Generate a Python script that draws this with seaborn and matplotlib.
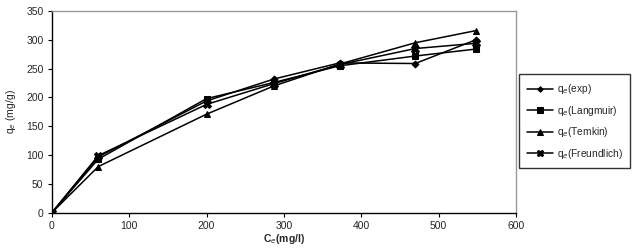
import matplotlib
matplotlib.use("Agg")
import matplotlib.pyplot as plt
import seaborn as sns
import pandas as pd

ce = [0, 60, 200, 287, 372, 470, 548]
q_exp = [0, 97, 194, 232, 260, 259, 300]
q_langmuir = [0, 93, 198, 226, 255, 272, 284]
q_temkin = [0, 80, 171, 220, 258, 295, 316]
q_freundlich = [0, 99, 188, 224, 257, 285, 294]

series = [
    ("q$_e$(exp)", q_exp, "D", 3.5),
    ("q$_e$(Langmuir)", q_langmuir, "s", 5),
    ("q$_e$(Temkin)", q_temkin, "^", 5),
    ("q$_e$(Freundlich)", q_freundlich, "X", 5.5),
]

sns.set_style("white")
plt.rcParams["font.family"] = ["Liberation Sans", "DejaVu Sans"]

fig = plt.figure(figsize=(6.4, 2.52), dpi=100)
ax = fig.add_axes([0.081, 0.156, 0.725, 0.8])

for name, vals, mk, ms in series:
    df = pd.DataFrame({"ce": ce, "q": vals})
    sns.lineplot(data=df, x="ce", y="q", ax=ax, color="black", lw=1.1,
                 marker=mk, markersize=ms, markeredgecolor="black",
                 label=name)

ax.set_xlim(0, 600)
ax.set_ylim(0, 350)
ax.set_xticks(range(0, 601, 100))
ax.set_yticks(range(0, 351, 50))
ax.tick_params(axis="both", labelsize=7.5, length=3, direction="out",
               bottom=True, left=True, color="black", pad=3)
for s in ["left", "bottom"]:
    ax.spines[s].set_color("black")
    ax.spines[s].set_linewidth(1)
for s in ["top", "right"]:
    ax.spines[s].set_color("#999999")
    ax.spines[s].set_linewidth(1)

ax.set_xlabel("C$_e$(mg/l)", fontsize=7.5, fontweight="bold", labelpad=1)
ax.set_ylabel("q$_e$ (mg/g)", fontsize=7.5, labelpad=6)

leg = ax.legend(loc="center left", bbox_to_anchor=(0.811, 0.518),
                bbox_transform=fig.transFigure, fontsize=7.3,
                frameon=True, fancybox=False, edgecolor="black",
                handlelength=2.6, borderpad=0.75, labelspacing=0.75,
                handletextpad=0.35, borderaxespad=0, markerscale=0.8)
leg.get_frame().set_linewidth(1)

fig.savefig("out.png", dpi=100)
